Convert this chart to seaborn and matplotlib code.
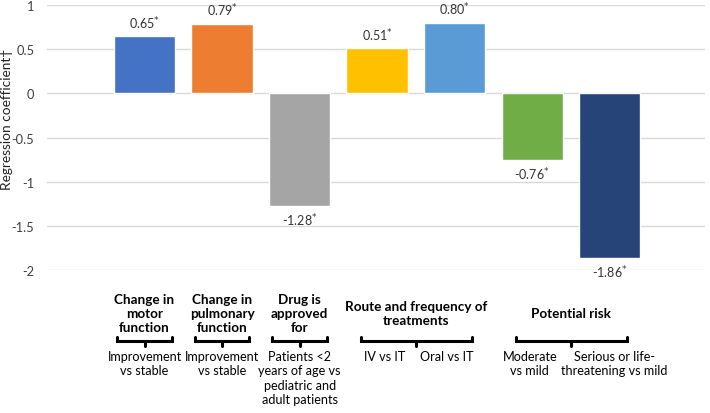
import matplotlib
matplotlib.use("Agg")
from matplotlib import pyplot as plt
from matplotlib import transforms
import pandas as pd
import seaborn as sns

# data
comparisons = ["Improvement\nvs stable", "Improvement\nvs stable",
               "Patients <2\nyears of age vs\npediatric and\nadult patients",
               "IV vs IT", "Oral vs IT", "Moderate\nvs mild",
               "Serious or life-\nthreatening vs mild"]
coefficients = [0.65, 0.79, -1.28, 0.51, 0.80, -0.76, -1.86]
value_labels = ["0.65", "0.79", "-1.28", "0.51", "0.80", "-0.76", "-1.86"]
bar_colors = ["#4472C4", "#ED7D31", "#A5A5A5", "#FFC000", "#5B9BD5", "#70AD47", "#264478"]
group_titles = ["Change in\nmotor\nfunction", "Change in\npulmonary\nfunction",
                "Drug is\napproved\nfor", "Route and frequency of\ntreatments", "Potential risk"]
group_members = [[0], [1], [2], [3, 4], [5, 6]]

sns.set_theme(style="white")
plt.rcParams["font.family"] = ["Lato", "DejaVu Sans"]

df = pd.DataFrame({"idx": [str(i) for i in range(len(coefficients))],
                   "coef": coefficients})

fig = plt.figure(figsize=(7.1, 4.14), dpi=100)
ax = fig.add_axes([0.066, 0.3454, 0.927, 0.6401])

sns.barplot(data=df, x="idx", y="coef", hue="idx", palette=bar_colors,
            legend=False, width=0.79, saturation=1, ax=ax)

ax.set_ylim(-2, 1)
ax.set_xlim(-1.26, 7.23)
ax.set_yticks([-2, -1.5, -1, -0.5, 0, 0.5, 1])
ax.set_yticklabels(["-2", "-1.5", "-1", "-0.5", "0", "0.5", "1"], fontsize=9.3, color="#404040")
ax.tick_params(axis="y", length=0, pad=9)
ax.set_xticks([])
ax.set_xlabel("")
ax.set_ylabel("")
fig.text(7 / 710, 1 - 119 / 414, "Regression coefficient\u2020", rotation=90,
         ha="center", va="center", fontsize=9.8, color="#222222")
ax.grid(axis="y", color="#d9d9d9", linewidth=1)
ax.set_axisbelow(True)
for s in ax.spines.values():
    s.set_visible(False)

for i, (v, lab) in enumerate(zip(coefficients, value_labels)):
    off = 0.06 if v > 0 else -0.06
    ax.text(i, v + off, lab + r"$^{*}$", ha="center",
            va="bottom" if v > 0 else "top", fontsize=9, color="#333333")

# group headers, brackets and comparison labels below the axes
tr = transforms.blended_transform_factory(ax.transData, fig.transFigure)
fy = lambda py: 1 - py / 414

for title, members in zip(group_titles, group_members):
    xc = sum(members) / len(members)
    ax.text(xc, fy(314), title, transform=tr, ha="center", va="center",
            fontsize=9.7, fontweight="bold", color="black", linespacing=1.15)
    if len(members) == 1:
        x0, x1 = xc - 0.35, xc + 0.35
    else:
        x0, x1 = members[0] - 0.21, members[-1] + 0.22
    ax.plot([x0, x0, x1, x1], [fy(338), fy(342), fy(342), fy(338)], transform=tr,
            color="black", lw=2.2, clip_on=False, solid_joinstyle="miter")
    ax.plot([xc, xc], [fy(342), fy(346.5)], transform=tr, color="black", lw=2.2,
            clip_on=False)

label_x = [0, 1, 2, 3.1, 3.9, 4.97, 6.06]
for x, lab in zip(label_x, comparisons):
    ax.text(x, fy(351), lab, transform=tr, ha="center", va="top",
            fontsize=9.1, color="black", linespacing=1.25)

fig.savefig("out.png", dpi=100)
